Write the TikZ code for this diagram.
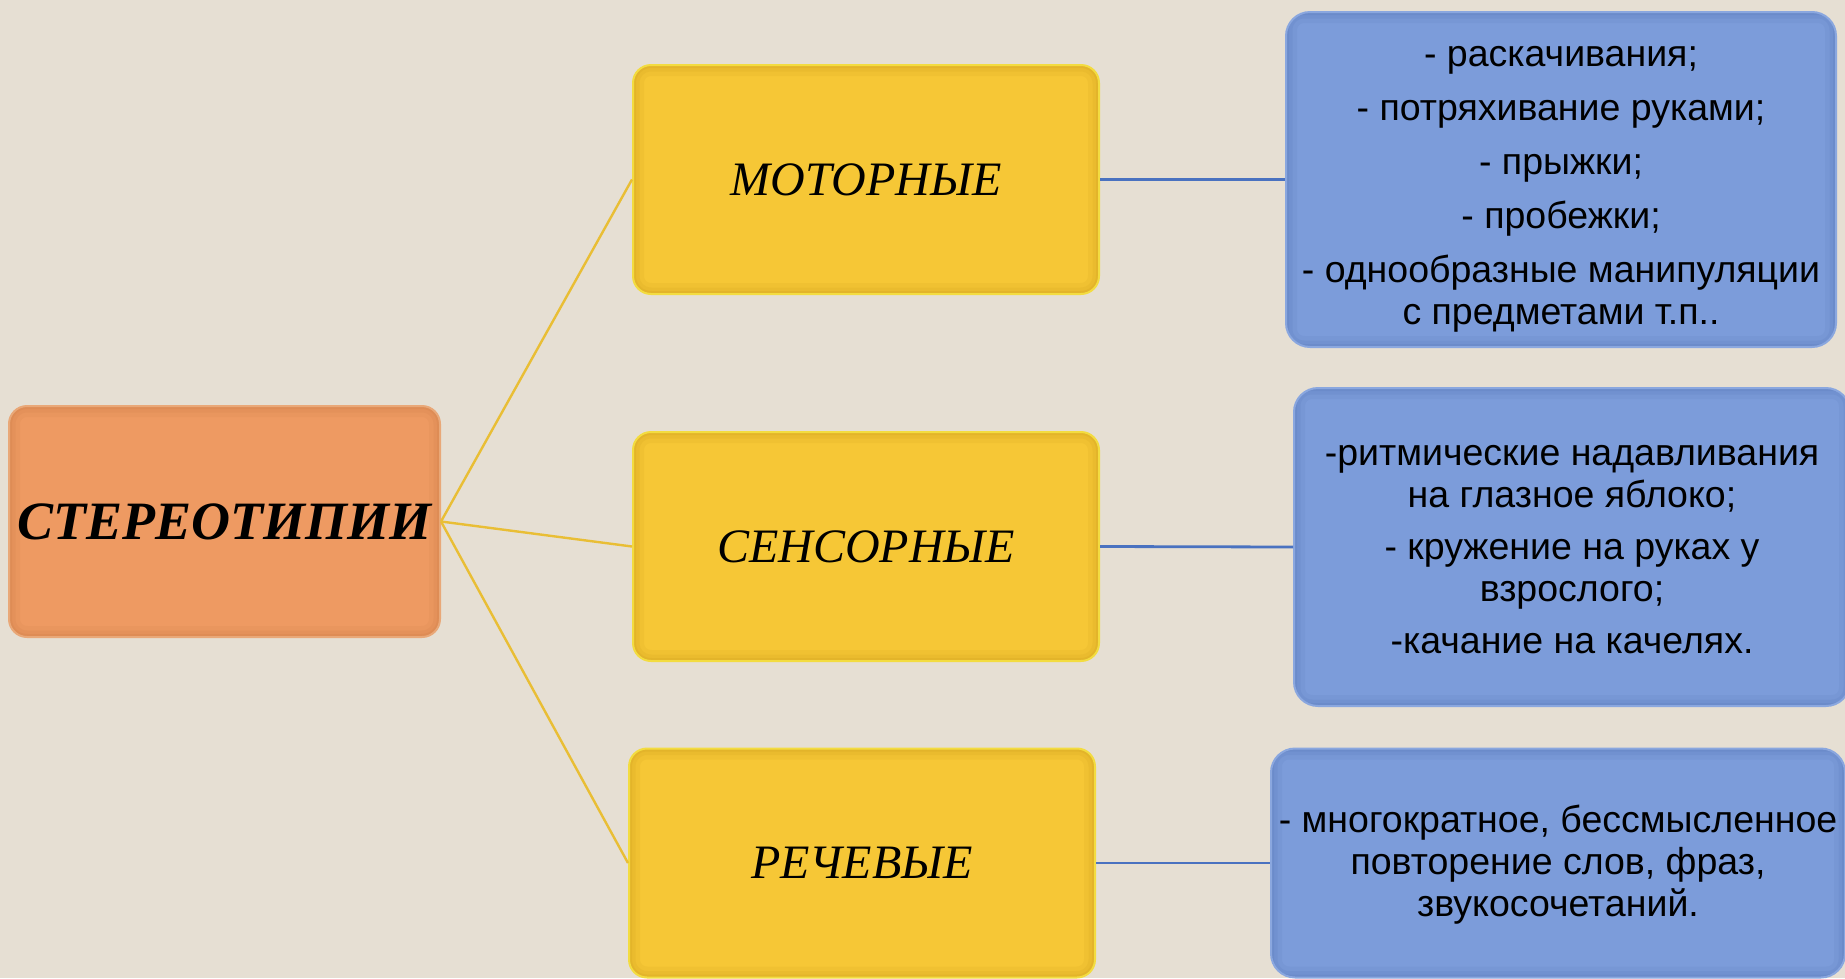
\documentclass[tikz,border=0pt]{standalone}
\usepackage{fontspec}
\setmainfont{Liberation Sans}
\newfontfamily\titlefont{Liberation Serif}
\definecolor{bgc}{HTML}{E6DFD3}
\definecolor{orangec}{HTML}{EE9A62}
\definecolor{orangeedge}{HTML}{E9A878}
\definecolor{orangeshade}{HTML}{C87A45}
\definecolor{yellowc}{HTML}{F6C736}
\definecolor{yellowedge}{HTML}{F3DC40}
\definecolor{yellowshade}{HTML}{C99A1C}
\definecolor{bluec}{HTML}{7C9CDA}
\definecolor{blueedge}{HTML}{8AA7DF}
\definecolor{blueshade}{HTML}{5575B5}
\definecolor{ylinec}{HTML}{E9BE35}
\definecolor{blinec}{HTML}{4A72C0}
\tikzset{
  boxbase/.style={rectangle, rounded corners=18pt, line width=2pt, inner sep=0pt, align=center, text=black},
  bevel/.style={path picture={
      \draw[#1, line width=22pt, opacity=0.12, rounded corners=18pt]
      (path picture bounding box.south west) rectangle (path picture bounding box.north east);
      \draw[#1, line width=13pt, opacity=0.15, rounded corners=18pt]
      (path picture bounding box.south west) rectangle (path picture bounding box.north east);
      \draw[#1, line width=6pt, opacity=0.2, rounded corners=18pt]
      (path picture bounding box.south west) rectangle (path picture bounding box.north east);}},
  rootbox/.style={boxbase, fill=orangec, draw=orangeedge, bevel=orangeshade, minimum width=431pt, minimum height=231pt,
     font=\titlefont\bfseries\itshape\fontsize{54}{60}\selectfont},
  catbox/.style={boxbase, fill=yellowc, draw=yellowedge, bevel=yellowshade, minimum width=466pt, minimum height=229pt,
     font=\titlefont\itshape\fontsize{48}{54}\selectfont},
  itembox/.style={boxbase, fill=bluec, draw=blueedge, bevel=blueshade, rounded corners=24pt,
     font=\fontsize{37.5}{42}\selectfont},
  yline/.style={draw=ylinec, line width=2.4pt},
  bline/.style={draw=blinec, line width=2.8pt}
}
\begin{document}
\begin{tikzpicture}[x=1pt,y=-1pt]
\fill[bgc] (0,0) rectangle (1845,978);
\useasboundingbox (0,0) rectangle (1845,978);
\begin{scope}
\clip (0,0) rectangle (1845,978);
% nodes
\node[rootbox] (root) at (224.5,521.5) {СТЕРЕОТИПИИ};
\node[catbox] (mot) at (866,179.5) {МОТОРНЫЕ};
\node[catbox] (sen) at (866,546.5) {СЕНСОРНЫЕ};
\node[catbox] (rech) at (862,863) {РЕЧЕВЫЕ};
\node[itembox, minimum width=550pt, minimum height=335pt] (b1) at (1561,179.5)
  {\raisebox{-8pt}[\height][\depth]{\begin{tabular}{@{}c@{}}
   - раскачивания;\\[12pt]
   - потряхивание руками;\\[12pt]
   - прыжки;\\[12pt]
   - пробежки;\\[12pt]
   - однообразные манипуляции\\
   с предметами т.п..\end{tabular}}};
\node[itembox, minimum width=556pt, minimum height=318pt] (b2) at (1572,547)
  {\raisebox{-4pt}[\height][\depth]{\begin{tabular}{@{}c@{}}
   -ритмические надавливания\\
   на глазное яблоко;\\[10pt]
   - кружение на руках у\\
   взрослого;\\[10pt]
   -качание на качелях.\end{tabular}}};
\node[itembox, minimum width=574pt, minimum height=229pt] (b3) at (1558,863)
  {\raisebox{-3pt}[\height][\depth]{\begin{tabular}{@{}c@{}}
   - многократное, бессмысленное\\
   повторение слов, фраз,\\
   звукосочетаний.\end{tabular}}};
% connectors
\draw[yline] (root.east) -- (mot.west);
\draw[yline] (root.east) -- (sen.west);
\draw[yline] (root.east) -- (rech.west);
\draw[bline] (mot.east) -- (b1.west);
\draw[bline] (sen.east) -- (b2.west);
\draw[bline] (rech.east) -- (b3.west);
\end{scope}
\end{tikzpicture}
\end{document}
